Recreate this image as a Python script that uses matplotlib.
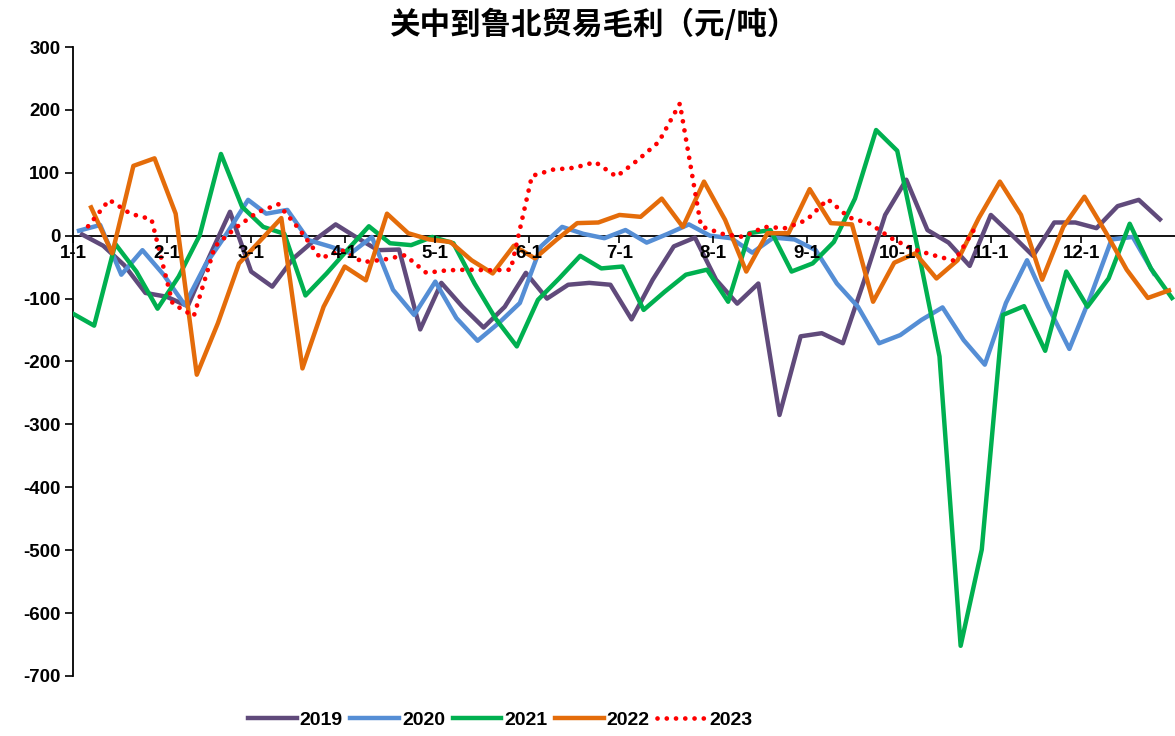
import matplotlib
matplotlib.use("Agg")
import matplotlib.pyplot as plt
import pandas as pd

plt.rcParams["axes.unicode_minus"] = False

TITLE = "关中到鲁北贸易毛利（元/吨）"
YEARS = ["2019", "2020", "2021", "2022", "2023"]
# weekly (Friday) series, first observation of each year
FIRST_DAY = ["2019-01-04", "2020-01-03", "2021-01-01", "2022-01-07", "2023-01-06"]
COLORS = ["#604A7B", "#558ED5", "#00B050", "#E46C0A", "#FF0000"]

v2019 = [2, -16, -47, -91, -97, -112, -35, 38, -57, -81,
         -36, -7, 18, -3, -23, -22, -149, -75, -113, -146,
         -113, -59, -100, -78, -75, -78, -133, -70, -17, -3,
         -70, -108, -76, -285, -160, -155, -171, -72, 33, 89,
         9, -11, -48, 33, 1, -32, 21, 21, 12, 47,
         57, 26]
v2020 = [8, 17, -62, -23, -62, -110, -45, 4, 57, 35,
         41, -7, -17, -28, -2, -86, -126, -73, -131, -167,
         -139, -107, -17, 14, 3, -4, 9, -11, 3, 18,
         0, -4, -27, -3, -6, -23, -76, -113, -171, -158,
         -134, -114, -166, -205, -107, -39, -113, -180, -97, -6,
         -2, -60]
v2021 = [-124, -143, -13, -57, -116, -65, 1, 130, 46, 14,
         3, -95, -60, -22, 15, -12, -15, -2, -12, -76,
         -132, -176, -102, -68, -32, -52, -49, -118, -89, -62,
         -54, -105, 4, 9, -57, -44, -10, 59, 168, 135,
         -25, -192, -652, -499, -126, -112, -183, -57, -113, -68,
         19, -52, -99]
v2022 = [45, -28, 111, 123, 35, -221, -139, -44, -8, 28,
         -211, -113, -49, -71, 35, 4, -6, -10, -39, -60,
         -16, -36, -7, 20, 21, 33, 30, 59, 14, 86,
         25, -57, 4, 4, 74, 20, 18, -105, -43, -28,
         -68, -39, 28, 86, 33, -70, 14, 62, 6, -54,
         -99, -87]
v2023 = [15, 57, 35, 26, -108, -128, -17, 13, 37, 50,
         10, -36, -23, -42, -38, -31, -59, -55, -54, -55,
         -54, 95, 105, 108, 117, 94, 120, 149, 210, 15,
         3, -2, 14, 12, 25, 58, 29, 19, -4, -21,
         -31, -40, 14]
SERIES = [v2019, v2020, v2021, v2022, v2023]

MONTH_LABELS = [f"{m}-1" for m in range(1, 13)]
YTICKS = list(range(-700, 301, 100))

BASE_YEAR = 2021   # all years drawn on one Jan..Dec axis
TICK_FONT = ["Liberation Sans", "DejaVu Sans"]

fig = plt.figure(figsize=(11.75, 7.36), dpi=100)
ax = fig.add_axes([73 / 1175, 60 / 736, 1102 / 1175, 629 / 736])

for year, first, color, vals in zip(YEARS, FIRST_DAY, COLORS, SERIES):
    dates = pd.date_range(first, periods=len(vals), freq="7D")
    x = [d.replace(year=BASE_YEAR) for d in dates]
    if year == "2023":
        ax.plot(x, vals, color=color, lw=3.4, linestyle=(0, (0.01, 1.95)),
                dash_capstyle="round", label=year, zorder=3)
    else:
        ax.plot(x, vals, color=color, lw=3.2, label=year, zorder=3)

# ── axes (spine position first: it resets the ticks) ─────────────────────────
ax.spines["top"].set_visible(False)
ax.spines["right"].set_visible(False)
ax.spines["bottom"].set_position(("data", 0))
for s in ("left", "bottom"):
    ax.spines[s].set_linewidth(1.3)
    ax.spines[s].set_color("black")
    ax.spines[s].set_zorder(2)

ax.set_xlim(pd.Timestamp(f"{BASE_YEAR}-01-01"), pd.Timestamp(f"{BASE_YEAR + 1}-01-01"))
ax.set_ylim(-700, 300)

month_starts = [pd.Timestamp(BASE_YEAR, m, 1) for m in range(1, 13)]
ax.set_xticks(month_starts)
ax.set_xticklabels(MONTH_LABELS)
ax.set_yticks(YTICKS)
ax.set_yticklabels([str(t) for t in YTICKS])
ax.tick_params(axis="x", direction="out", length=5, width=1.2, pad=2)
ax.tick_params(axis="y", direction="out", length=6, width=1.2, pad=3)
for lab in ax.get_xticklabels() + ax.get_yticklabels():
    lab.set_fontsize(13.5)
    lab.set_fontweight("bold")
    lab.set_family(TICK_FONT)
ax.xaxis.set_zorder(5)   # month labels sit on top of the lines

fig.text(593 / 1175, 1 - 25 / 736, TITLE, ha="center", va="center",
         fontsize=22, fontweight="bold", family=["Noto Sans CJK SC", "DejaVu Sans"])

ax.legend(loc="center", bbox_to_anchor=(500 / 1175, 1 - 720 / 736),
          bbox_transform=fig.transFigure, ncol=5, frameon=False,
          handlelength=2.5, handletextpad=0.15, columnspacing=0.4,
          prop={"family": TICK_FONT, "weight": "bold", "size": 14})

fig.savefig("out.png", dpi=100)
